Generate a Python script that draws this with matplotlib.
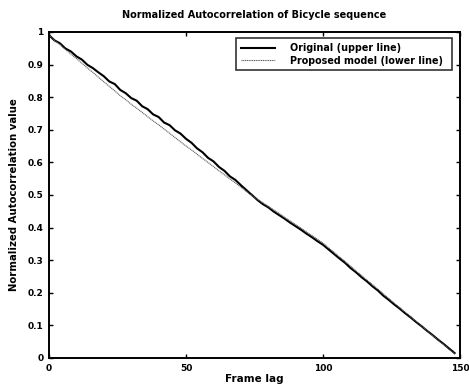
#!/usr/bin/env python3

import matplotlib
matplotlib.use('Agg')
import matplotlib.pyplot as plt
from matplotlib.ticker import FormatStrFormatter
import numpy as np

# frame lags (every 2 frames)
frame_lag = list(range(0, 150, 2))

# original sequence (upper line)
original = [
    0.990, 0.974, 0.965, 0.949, 0.940, 0.925, 0.915, 0.899, 0.889, 0.876,
    0.864, 0.848, 0.840, 0.822, 0.812, 0.797, 0.789, 0.772, 0.763, 0.747,
    0.739, 0.722, 0.714, 0.698, 0.688, 0.672, 0.660, 0.643, 0.631, 0.614,
    0.603, 0.586, 0.574, 0.557, 0.546, 0.530, 0.515, 0.500, 0.485, 0.472,
    0.462, 0.449, 0.438, 0.427, 0.415, 0.404, 0.393, 0.381, 0.370, 0.358,
    0.347, 0.333, 0.319, 0.305, 0.292, 0.276, 0.263, 0.248, 0.235, 0.220,
    0.207, 0.191, 0.178, 0.164, 0.151, 0.137, 0.124, 0.110, 0.097, 0.083,
    0.070, 0.056, 0.043, 0.029, 0.015,
]

# proposed model (lower line)
model = [
    0.990, 0.974, 0.961, 0.946, 0.932, 0.918, 0.904, 0.889, 0.876, 0.861,
    0.847, 0.833, 0.819, 0.804, 0.792, 0.778, 0.766, 0.753, 0.740, 0.727,
    0.715, 0.702, 0.689, 0.676, 0.663, 0.650, 0.638, 0.625, 0.612, 0.600,
    0.587, 0.574, 0.562, 0.549, 0.537, 0.524, 0.511, 0.498, 0.487, 0.476,
    0.465, 0.454, 0.443, 0.431, 0.420, 0.409, 0.398, 0.386, 0.375, 0.364,
    0.352, 0.338, 0.324, 0.310, 0.296, 0.282, 0.267, 0.253, 0.239, 0.225,
    0.211, 0.197, 0.182, 0.168, 0.154, 0.140, 0.126, 0.112, 0.098, 0.083,
    0.069, 0.055, 0.041, 0.027, 0.013,
]

x_ticks = [0, 50, 100, 150]
y_ticks = [0, 0.1, 0.2, 0.3, 0.4, 0.5, 0.6, 0.7, 0.8, 0.9, 1]


def main():
    plt.rcParams['font.family'] = ['DejaVu Sans']
    plt.rcParams['font.weight'] = 'bold'

    fig = plt.figure(figsize=(4.69, 3.89), dpi=100)
    ax = fig.add_axes([0.1045, 0.0797, 0.8765, 0.8383])

    ax.plot(frame_lag, original, color='black', lw=1.5,
            label='Original (upper line)')
    ax.plot(frame_lag, model, color='0.35', lw=0.8, linestyle=(0, (1, 0.6)),
            label='Proposed model (lower line)')

    ax.set_xlim(0, 150)
    ax.set_ylim(0, 1)
    ax.set_xticks(x_ticks)
    ax.set_yticks(y_ticks)
    ax.yaxis.set_major_formatter(FormatStrFormatter('%g'))
    ax.tick_params(direction='in', length=3, width=1, labelsize=6.5,
                   top=True, right=True, pad=4)
    for lbl in ax.get_xticklabels() + ax.get_yticklabels():
        lbl.set_fontweight('bold')
    for sp in ax.spines.values():
        sp.set_linewidth(1.4)

    ax.set_title('Normalized Autocorrelation of Bicycle sequence',
                 fontsize=7, fontweight='bold', pad=10)
    ax.set_xlabel('Frame lag', fontsize=7.5, fontweight='bold', labelpad=1)
    ax.set_ylabel('Normalized Autocorrelation value', fontsize=7.3,
                  fontweight='bold', labelpad=6)

    leg = ax.legend(loc='upper left', bbox_to_anchor=(0.455, 0.98, 0.525, 0.0),
                    mode='expand', fontsize=6.9, frameon=True, fancybox=False,
                    edgecolor='black', handlelength=3.6, handletextpad=1.5,
                    borderpad=0.5, labelspacing=0.25, borderaxespad=0)
    leg.get_frame().set_linewidth(1.2)
    for t in leg.get_texts():
        t.set_fontweight('bold')

    fig.savefig('out.png', dpi=100)


if __name__ == '__main__':
    main()
